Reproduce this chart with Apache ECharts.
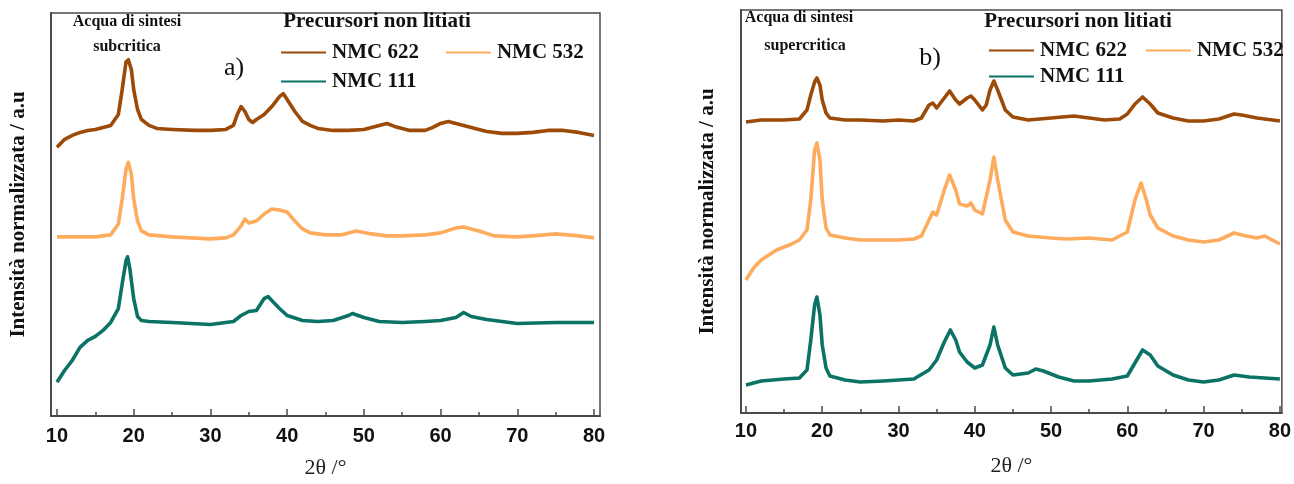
<!DOCTYPE html>
<html><head><meta charset="utf-8">
<script src="https://cdn.jsdelivr.net/npm/echarts@6/dist/echarts.min.js"></script>
<style>html,body{margin:0;padding:0;background:#fff}#c{width:1294px;height:484px}</style>
</head><body><div id="c"></div>
<script>
// ---- data (2θ in degrees, normalized intensity in a.u.) ----
const xTicks = [10, 20, 30, 40, 50, 60, 70, 80];
const xMinorTicks = [15, 25, 35, 45, 55, 65, 75];
const seriesNames = ['NMC 622', 'NMC 532', 'NMC 111'];

// a) subcritical water
const sub622 = [[10,270],[11,278],[12,282],[13,285],[14,287],[15,288],[16,290],[17,292],[18,303],[18.5,328],[19,356],[19.3,358],[19.7,348],[20,328],[20.5,308],[21,298],[22,292],[23,289],[25,288],[28,287],[30,287],[32,288],[33,292],[33.5,303],[34,311],[34.5,306],[35,298],[35.5,295],[36,298],[37,303],[38,311],[39,321],[39.5,324],[40,318],[41,306],[42,296],[43,292],[44,289],[46,287],[48,287],[50,288],[52,292],[53,294],[54,291],[56,287],[58,287],[59,290],[60,294],[61,296],[62,294],[64,290],[66,286],[68,284],[70,284],[72,285],[74,287],[76,287],[78,285],[80,282]];
const sub532 = [[10,180],[12,180],[15,180],[17,182],[18,193],[18.5,218],[19,248],[19.3,255],[19.7,243],[20,218],[20.5,196],[21,186],[22,182],[25,180],[30,178],[32,179],[33,182],[34,191],[34.5,198],[35,194],[36,196],[37,203],[38,208],[39,207],[40,205],[41,196],[42,188],[43,184],[45,182],[47,182],[49,186],[51,183],[53,181],[55,181],[58,182],[60,184],[62,189],[63,190],[65,186],[67,181],[70,180],[72,181],[75,183],[78,181],[80,179]];
const sub111 = [[10,34],[11,46],[12,56],[13,69],[14,76],[15,80],[16,86],[17,94],[18,108],[18.5,133],[19,156],[19.2,160],[19.5,148],[20,118],[20.5,100],[21,96],[22,95],[25,94],[30,92],[33,95],[34,101],[35,105],[36,106],[36.5,112],[37,118],[37.5,120],[38,116],[39,108],[40,101],[42,96],[44,95],[46,96],[48,101],[48.5,103],[50,99],[52,95],[55,94],[58,95],[60,96],[62,99],[63,104],[64,100],[66,97],[68,95],[70,93],[75,94],[80,94]];

// b) supercritical water
const sup622 = [[10,291],[12,293],[15,293],[17,294],[18,303],[18.5,318],[19,331],[19.3,335],[19.7,328],[20,313],[20.5,300],[21,295],[23,293],[25,293],[28,292],[30,293],[32,292],[33,295],[34,308],[34.5,310],[35,305],[36,315],[36.7,322],[37.5,313],[38,309],[39,315],[39.5,317],[40,313],[41,303],[41.5,308],[42,323],[42.5,332],[43,323],[44,303],[45,296],[47,293],[50,295],[53,297],[55,295],[57,293],[59,294],[60,299],[61,309],[62,316],[63,309],[64,300],[66,295],[68,292],[70,292],[72,294],[74,299],[75,298],[77,295],[80,292]];
const sup532 = [[10,133],[11,145],[12,153],[14,163],[16,169],[17,173],[18,183],[18.5,213],[19,263],[19.3,270],[19.7,253],[20,213],[20.5,185],[21,178],[23,175],[25,173],[28,173],[30,173],[32,174],[33,177],[34,193],[34.5,201],[35,198],[36,223],[36.7,238],[37.5,223],[38,209],[39,207],[39.5,210],[40,203],[41,199],[42,233],[42.5,256],[43,233],[44,193],[45,181],[47,177],[50,175],[52,174],[55,175],[58,173],[60,181],[61,213],[61.8,230],[62.5,213],[63,198],[64,185],[66,177],[68,173],[70,171],[72,173],[74,180],[75,178],[77,175],[78,177],[80,169]];
const sup111 = [[10,28],[12,32],[15,34],[17,35],[18,43],[18.5,73],[19,108],[19.3,116],[19.7,98],[20,68],[20.5,45],[21,37],[23,33],[25,31],[28,32],[30,33],[32,34],[34,43],[35,53],[36,71],[36.8,83],[37.5,73],[38,61],[39,51],[40,45],[41,48],[42,68],[42.5,86],[43,68],[44,45],[45,38],[47,40],[48,44],[49,42],[51,36],[53,32],[55,32],[58,34],[60,37],[61,50],[62,63],[63,58],[64,47],[66,38],[68,33],[70,31],[72,33],[74,38],[76,36],[78,35],[80,34]];

// ---- styles ----
const colors = ['#9c4a08', '#fdac5e', '#0b7366'];
const SERIF = 'Liberation Serif';
const SANS = 'Liberation Sans';
const AXC = '#4a4a4a';

function mainX(gridIndex, min, max, gap, margin) {
  return {
    type: 'value', gridIndex, min, max, position: 'bottom',
    name: '2θ /°', nameLocation: 'middle', nameGap: gap,
    nameTextStyle: { fontFamily: SERIF, fontSize: 22, color: '#222' },
    axisLine: { show: true, lineStyle: { color: AXC, width: 2 } },
    axisTick: { show: true, inside: true, length: 7, customValues: xTicks, lineStyle: { color: AXC, width: 1.5 } },
    axisLabel: { show: true, customValues: xTicks, margin, fontFamily: SANS, fontWeight: 'bold', fontSize: 20, color: '#111' },
    splitLine: { show: false }
  };
}
function minorX(gridIndex, min, max) {
  return {
    type: 'value', gridIndex, min, max, position: 'bottom',
    axisLine: { show: false },
    axisTick: { show: true, inside: true, length: 4, customValues: xMinorTicks, lineStyle: { color: AXC, width: 1.5 } },
    axisLabel: { show: false },
    splitLine: { show: false }
  };
}
function yAx(gridIndex, max, gap) {
  return {
    type: 'value', gridIndex, min: 0, max,
    name: 'Intensità normalizzata / a.u', nameLocation: 'middle', nameGap: gap,
    nameTextStyle: { fontFamily: SERIF, fontWeight: 'bold', fontSize: 21, color: '#111' },
    axisLine: { show: true, lineStyle: { color: AXC, width: 2 } },
    axisTick: { show: false }, axisLabel: { show: false }, splitLine: { show: false }
  };
}
function lineSeries(name, data, xi, yi, ci) {
  return {
    type: 'line', name, data, xAxisIndex: xi, yAxisIndex: yi,
    showSymbol: false, symbol: 'none', animation: false,
    lineStyle: { color: colors[ci], width: 3.6, join: 'round' },
    itemStyle: { color: colors[ci] }
  };
}
function legendRow(left, top, names, gap) {
  return {
    left, top, width: 420, data: names, icon: 'rect', itemWidth: 45, itemHeight: 2, itemGap: gap,
    selectedMode: false,
    textStyle: { fontFamily: SERIF, fontWeight: 'bold', fontSize: 21, color: '#111', padding: [0, 0, 0, 1] }
  };
}
function txt(text, x, y, size, weight) {
  return { type: 'text', x, y, style: { text, x: 0, y: 0, align: 'center', verticalAlign: 'middle',
    font: (weight || 'normal') + ' ' + size + 'px "' + SERIF + '"', fill: '#111' } };
}

const chart = echarts.init(document.getElementById('c'), null, { renderer: 'canvas' });
chart.setOption({
  animation: false,
  backgroundColor: '#fff',
  grid: [
    { left: 51, top: 13, width: 549, height: 405, show: true, borderColor: AXC, borderWidth: 1.5 },
    { left: 741, top: 10, width: 544, height: 403, show: true, borderColor: AXC, borderWidth: 1.5 }
  ],
  xAxis: [mainX(0, 9.22, 80.78, 41, 10), minorX(0, 9.22, 80.78), mainX(1, 9.35, 80.26, 42, 8), minorX(1, 9.35, 80.26)],
  yAxis: [yAx(0, 405, 22), yAx(1, 403, 23)],
  legend: [
    legendRow(276, 37, ['NMC 622', 'NMC 532'], 27),
    legendRow(276, 66, ['NMC 111'], 27),
    legendRow(984, 35, ['NMC 622', 'NMC 532'], 19),
    legendRow(984, 61, ['NMC 111'], 19)
  ],
  series: [
    lineSeries(seriesNames[0], sub622, 0, 0, 0),
    lineSeries(seriesNames[1], sub532, 0, 0, 1),
    lineSeries(seriesNames[2], sub111, 0, 0, 2),
    lineSeries(seriesNames[0], sup622, 2, 1, 0),
    lineSeries(seriesNames[1], sup532, 2, 1, 1),
    lineSeries(seriesNames[2], sup111, 2, 1, 2)
  ],
  graphic: [
    txt('Acqua di sintesi', 127, 22, 16, 'bold'),
    txt('subcritica', 127, 47, 16, 'bold'),
    txt('Precursori non litiati', 377, 22, 21, 'bold'),
    txt('a)', 234, 68, 26, 'normal'),
    txt('Acqua di sintesi', 799, 18, 16, 'bold'),
    txt('supercritica', 805, 46, 16, 'bold'),
    txt('Precursori non litiati', 1078, 22, 21, 'bold'),
    txt('b)', 930, 58, 26, 'normal')
  ]
});
</script></body></html>
